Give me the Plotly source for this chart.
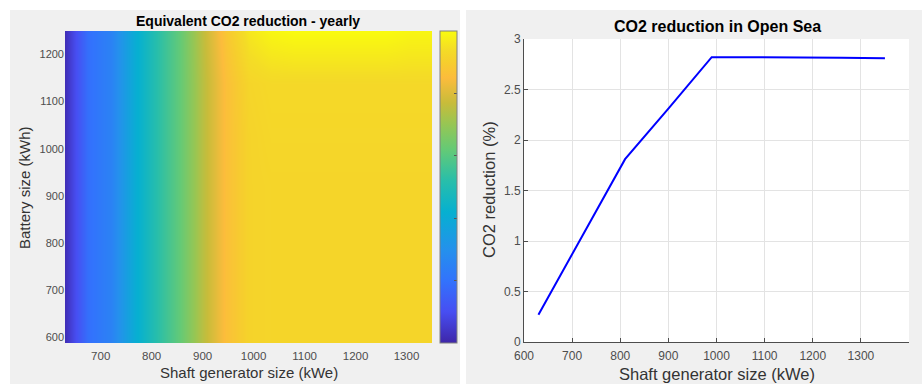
import plotly.graph_objects as go

# ---- data ----
shaft_sizes_line = [630, 720, 810, 900, 990, 1080, 1170, 1260, 1350]
co2_reduction_pct = [0.27, 1.04, 1.81, 2.31, 2.82, 2.82, 2.82, 2.815, 2.81]

heat_x = [630, 675, 720, 765, 810, 855, 900, 945, 990, 1035, 1080, 1125, 1170, 1215, 1260, 1305, 1350]
heat_y = [590, 700, 810, 920, 1030, 1140, 1250]
row_590 = [0.02, 0.19, 0.25, 0.40, 0.52, 0.62, 0.75, 0.86, 0.915, 0.92, 0.92, 0.92, 0.92, 0.92, 0.92, 0.92, 0.92]
row_700 = [0.02, 0.19, 0.25, 0.40, 0.52, 0.62, 0.75, 0.86, 0.915, 0.92, 0.92, 0.92, 0.92, 0.92, 0.92, 0.92, 0.92]
row_810 = [0.02, 0.19, 0.25, 0.40, 0.52, 0.62, 0.75, 0.86, 0.915, 0.92, 0.92, 0.92, 0.92, 0.92, 0.92, 0.92, 0.92]
row_920 = [0.02, 0.19, 0.25, 0.40, 0.52, 0.62, 0.75, 0.86, 0.915, 0.92, 0.92, 0.92, 0.92, 0.92, 0.92, 0.92, 0.92]
row_1030 = [0.02, 0.19, 0.25, 0.40, 0.52, 0.62, 0.75, 0.86, 0.915, 0.925, 0.925, 0.925, 0.925, 0.925, 0.925, 0.925, 0.925]
row_1140 = [0.02, 0.19, 0.25, 0.40, 0.52, 0.62, 0.75, 0.86, 0.92, 0.93, 0.93, 0.93, 0.93, 0.93, 0.93, 0.93, 0.93]
row_1250 = [0.02, 0.19, 0.25, 0.40, 0.52, 0.62, 0.76, 0.88, 0.96, 0.99, 1.0, 1.0, 1.0, 1.0, 1.0, 0.99, 0.99]
heat_z = [row_590, row_700, row_810, row_920, row_1030, row_1140, row_1250]

x_ticks_left = [700, 800, 900, 1000, 1100, 1200, 1300]
y_ticks_left = [600, 700, 800, 900, 1000, 1100, 1200]
x_ticks_right = [600, 700, 800, 900, 1000, 1100, 1200, 1300, 1400]
y_ticks_right = [0, 0.5, 1, 1.5, 2, 2.5, 3]
y_tick_text_right = ["0", "0.5", "1", "1.5", "2", "2.5", "3"]

parula = [
    [0.00, "rgb(62,38,168)"],
    [0.10, "rgb(71,78,242)"],
    [0.20, "rgb(50,115,252)"],
    [0.30, "rgb(36,145,236)"],
    [0.42, "rgb(6,176,208)"],
    [0.52, "rgb(40,190,170)"],
    [0.62, "rgb(100,202,118)"],
    [0.70, "rgb(150,198,84)"],
    [0.77, "rgb(200,188,58)"],
    [0.85, "rgb(252,188,60)"],
    [0.90, "rgb(246,206,45)"],
    [0.94, "rgb(244,220,38)"],
    [1.00, "rgb(249,251,14)"],
]

W, H = 922, 384
def px(x):
    return x / W
def py(y):
    return 1 - y / H

FONT = "Liberation Sans, Arial, sans-serif"
TICKC = "#4d4d4d"

fig = go.Figure()

fig.add_trace(go.Heatmap(
    x=heat_x, y=heat_y, z=heat_z, zsmooth="best", colorscale=parula,
    zmin=0, zmax=1, xaxis="x", yaxis="y",
    colorbar=dict(
        x=px(440), xanchor="left", xpad=0, ypad=0,
        y=py(31), yanchor="top", len=(343 - 31) / H, lenmode="fraction",
        thickness=17, thicknessmode="pixels",
        outlinecolor="#808080", outlinewidth=1,
        tickvals=[0.2, 0.4, 0.6, 0.8],
        ticks="inside", ticklen=3, tickcolor="#555555",
        showticklabels=False,
    ),
    showscale=True,
))

fig.add_trace(go.Scatter(
    x=shaft_sizes_line, y=co2_reduction_pct, mode="lines",
    line=dict(color="#0000ff", width=2), xaxis="x2", yaxis="y2",
    showlegend=False,
))

shapes = [
    dict(type="rect", xref="paper", yref="paper", x0=px(10), x1=px(460), y0=py(384), y1=py(10),
         fillcolor="#f0f0f0", line=dict(width=0), layer="below"),
    dict(type="rect", xref="paper", yref="paper", x0=px(466), x1=px(922), y0=py(384), y1=py(10),
         fillcolor="#f0f0f0", line=dict(width=0), layer="below"),
    dict(type="rect", xref="paper", yref="paper", x0=px(524), x1=px(909), y0=py(342), y1=py(39),
         fillcolor="#ffffff", line=dict(width=0), layer="below"),
]

annotations = [
    dict(text="<b>Equivalent CO2 reduction - yearly</b>", xref="paper", yref="paper",
         x=px(248), y=py(21), xanchor="center", yanchor="middle", showarrow=False,
         font=dict(family=FONT, size=14, color="#000000")),
    dict(text="<b>CO2 reduction in Open Sea</b>", xref="paper", yref="paper",
         x=px(717), y=py(26), xanchor="center", yanchor="middle", showarrow=False,
         font=dict(family=FONT, size=16, color="#000000")),
    dict(text="Shaft generator size (kWe)", xref="paper", yref="paper",
         x=px(249), y=py(372), xanchor="center", yanchor="middle", showarrow=False,
         font=dict(family=FONT, size=15, color="#333333")),
    dict(text="Battery size (kWh)", xref="paper", yref="paper", textangle=-90,
         x=px(25), y=py(188), xanchor="center", yanchor="middle", showarrow=False,
         font=dict(family=FONT, size=15, color="#333333")),
    dict(text="Shaft generator size (kWe)", xref="paper", yref="paper",
         x=px(717), y=py(374), xanchor="center", yanchor="middle", showarrow=False,
         font=dict(family=FONT, size=16.5, color="#333333")),
    dict(text="CO2 reduction (%)", xref="paper", yref="paper", textangle=-90,
         x=px(489), y=py(190), xanchor="center", yanchor="middle", showarrow=False,
         font=dict(family=FONT, size=16.5, color="#333333")),
]

fig.update_layout(
    width=W, height=H, margin=dict(l=0, r=0, t=0, b=0, autoexpand=False),
    paper_bgcolor="#ffffff", plot_bgcolor="rgba(0,0,0,0)",
    font=dict(family=FONT, size=11, color=TICKC),
    showlegend=False, shapes=shapes, annotations=annotations,
    xaxis=dict(domain=[px(65), px(432)], range=[630, 1350], anchor="y", automargin=False,
               tickvals=x_ticks_left, ticks="", showgrid=False, zeroline=False,
               ticklabelstandoff=4,
               showline=False, tickfont=dict(size=11.5, color=TICKC)),
    yaxis=dict(domain=[py(343), py(31)], range=[587, 1250], anchor="x", automargin=False,
               tickvals=y_ticks_left, ticks="", showgrid=False, zeroline=False,
               showline=False, tickfont=dict(size=11, color=TICKC)),
    xaxis2=dict(domain=[px(524), px(909)], range=[600, 1400], anchor="y2", automargin=False,
                tickvals=x_ticks_right, ticks="inside", ticklen=4, tickcolor="#4d4d4d",
                ticklabelstandoff=3,
                showgrid=True, gridcolor="#e3e3e3", zeroline=False,
                showline=True, linecolor="#4d4d4d", linewidth=1,
                tickfont=dict(size=12, color=TICKC)),
    yaxis2=dict(domain=[py(342), py(39)], range=[0, 3], anchor="x2", automargin=False,
                tickvals=y_ticks_right, ticktext=y_tick_text_right,
                ticks="inside", ticklen=4, tickcolor="#4d4d4d",
                showgrid=True, gridcolor="#e3e3e3", zeroline=False,
                showline=True, linecolor="#4d4d4d", linewidth=1,
                tickfont=dict(size=12, color=TICKC)),
)

fig.write_html("out.html", config={"displayModeBar": False},
               post_script="document.body.style.margin='0';document.body.style.padding='0';")
